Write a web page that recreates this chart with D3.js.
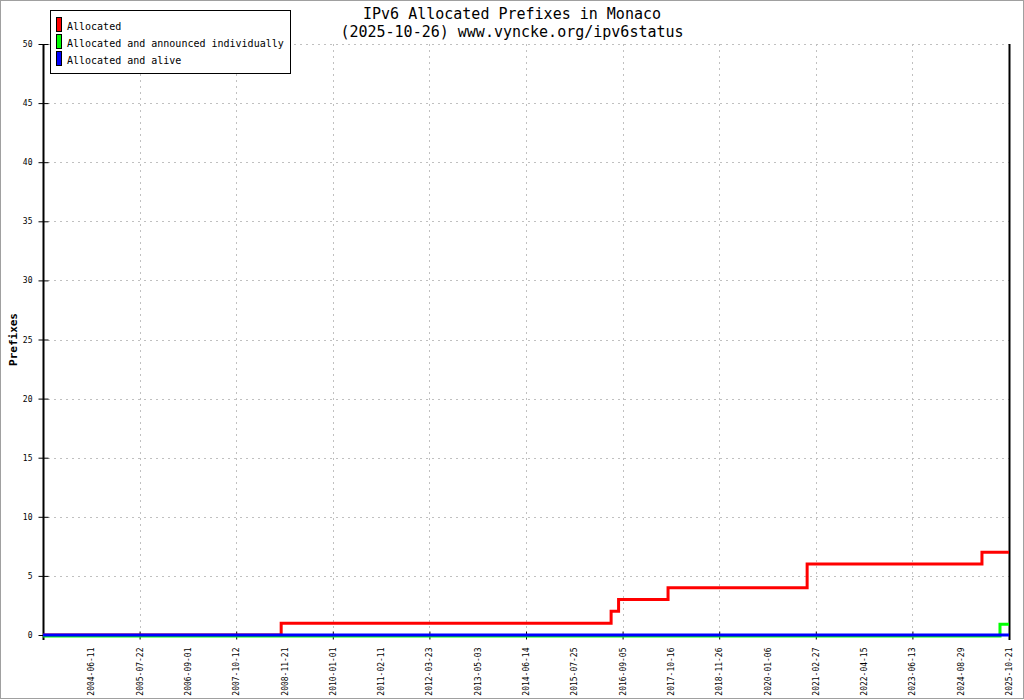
<!DOCTYPE html>
<html>
<head>
<meta charset="utf-8">
<script src="https://cdn.jsdelivr.net/npm/d3@7"></script>
<style>
  body { margin: 0; background: #fff; }
  svg { display: block; }
  text { font-family: "DejaVu Sans Mono", "Liberation Mono", monospace; }
</style>
</head>
<body>
<svg id="chart"></svg>
<script>
// donnees
const axisStart = "2003-05-02";
const xLabels = ["2004-06-11", "2005-07-22", "2006-09-01", "2007-10-12", "2008-11-21",
  "2010-01-01", "2011-02-11", "2012-03-23", "2013-05-03", "2014-06-14", "2015-07-25",
  "2016-09-05", "2017-10-16", "2018-11-26", "2020-01-06", "2021-02-27", "2022-04-15",
  "2023-06-13", "2024-08-29", "2025-10-21"];
const yTicks = [0, 5, 10, 15, 20, 25, 30, 35, 40, 45, 50];

const allocatedDates = ["2003-05-02", "2008-10-24", "2016-05-31", "2016-08-02", "2017-09-22", "2020-12-14", "2025-03-01", "2025-10-21"];
const allocatedValues = [0, 1, 2, 3, 4, 6, 7, 7];
const announcedDates = ["2003-05-02", "2025-08-04", "2025-10-21"];
const announcedValues = [0, 1, 1];
const aliveDates = ["2003-05-02", "2025-10-21"];
const aliveValues = [0, 0];

const seriesNames = ["Allocated", "Allocated and announced individually", "Allocated and alive"];
const seriesColors = ["#ff0000", "#00ff00", "#0000ff"];

const width = 1024, height = 700;
const mLeft = 43, mRight = 1009, mTop = 44, mBottom = 635;

const svg = d3.select("#chart").attr("width", width).attr("height", height);
const parse = d3.timeParse("%Y-%m-%d");

// bordure grise autour de l'image
svg.append("rect")
  .attr("x", 0.5).attr("y", 0.5)
  .attr("width", width - 1).attr("height", height - 2)
  .attr("fill", "white")
  .attr("stroke", "#a0a0a0");

// echelle x : les etiquettes sont espacees regulierement (polylineaire)
const xDomain = [axisStart].concat(xLabels).map(parse);
const step = (mRight - mLeft) / xLabels.length;
const x = d3.scaleTime()
  .domain(xDomain)
  .range(xDomain.map((d, i) => mLeft + i * step));

const y = d3.scaleLinear().domain([0, 50]).range([mBottom, mTop]);

// grille
const gridColor = "#c0c0c0";
svg.append("g")
  .selectAll("line")
  .data(yTicks)
  .join("line")
  .attr("x1", mLeft + 5).attr("x2", mRight)
  .attr("y1", d => Math.round(y(d)) + 0.5).attr("y2", d => Math.round(y(d)) + 0.5)
  .attr("stroke", gridColor)
  .attr("stroke-dasharray", "2,4")
  .attr("shape-rendering", "crispEdges");

const tickDates = xLabels.filter((d, i) => i % 2 === 1).map(parse);
svg.append("g")
  .selectAll("line")
  .data(tickDates)
  .join("line")
  .attr("x1", d => Math.round(x(d)) + 0.5).attr("x2", d => Math.round(x(d)) + 0.5)
  .attr("y1", mTop).attr("y2", mBottom - 4)
  .attr("stroke", gridColor)
  .attr("stroke-dasharray", "2,4")
  .attr("shape-rendering", "crispEdges");

// axe x
const xAxis = svg.append("g")
  .attr("transform", `translate(0,${mBottom + 0.5})`)
  .call(d3.axisBottom(x)
    .tickValues(xLabels.map(parse))
    .tickFormat(d3.timeFormat("%Y-%m-%d"))
    .tickSize(0));
xAxis.select(".domain").remove();
xAxis.selectAll(".tick line")
  .attr("y1", -4).attr("y2", 4)
  .attr("stroke", "black")
  .style("display", (d, i) => i % 2 === 1 ? null : "none");
xAxis.selectAll(".tick text")
  .attr("transform", "translate(0,12) rotate(-90)")
  .attr("x", 0).attr("y", 0)
  .attr("dy", "0.32em")
  .attr("text-anchor", "end")
  .attr("font-size", 8)
  .attr("font-family", "DejaVu Sans Mono")
  .attr("fill", "black");

// axe y
const yAxis = svg.append("g")
  .attr("transform", `translate(${mLeft + 0.5},0)`)
  .call(d3.axisLeft(y).tickValues(yTicks).tickSize(0));
yAxis.select(".domain").remove();
yAxis.selectAll(".tick line")
  .attr("x1", -5).attr("x2", 5)
  .attr("stroke", "black");
yAxis.selectAll(".tick text")
  .attr("x", -11)
  .attr("font-size", 8)
  .attr("font-family", "DejaVu Sans Mono")
  .attr("fill", "black");

// cadre : axe gauche, bas, bordure droite
svg.append("line")
  .attr("x1", mLeft + 0.5).attr("x2", mLeft + 0.5)
  .attr("y1", mTop).attr("y2", mBottom + 5)
  .attr("stroke", "black").attr("stroke-width", 2);
svg.append("line")
  .attr("x1", mLeft).attr("x2", mRight + 1)
  .attr("y1", mBottom + 0.5).attr("y2", mBottom + 0.5)
  .attr("stroke", "black");
svg.append("line")
  .attr("x1", mRight + 0.5).attr("x2", mRight + 0.5)
  .attr("y1", mTop).attr("y2", mBottom + 5)
  .attr("stroke", "black").attr("stroke-width", 2);

// courbes
const line = d3.line()
  .x(d => x(d[0]))
  .y(d => y(d[1]))
  .curve(d3.curveStepAfter);

const series = [
  { dates: allocatedDates, values: allocatedValues, color: seriesColors[0], shift: 0 },
  { dates: announcedDates, values: announcedValues, color: seriesColors[1], shift: 1 },
  { dates: aliveDates, values: aliveValues, color: seriesColors[2], shift: 0 }
];

series.forEach(s => {
  const pts = s.dates.map((d, i) => [parse(d), s.values[i]]);
  svg.append("path")
    .datum(pts)
    .attr("d", line)
    .attr("transform", `translate(0,${s.shift})`)
    .attr("fill", "none")
    .attr("stroke", s.color)
    .attr("stroke-width", 3);
});

// titre
svg.append("text")
  .text("IPv6 Allocated Prefixes in Monaco")
  .attr("x", width / 2).attr("y", 19)
  .attr("text-anchor", "middle")
  .attr("font-size", 15);
svg.append("text")
  .text("(2025-10-26) www.vyncke.org/ipv6status")
  .attr("x", width / 2).attr("y", 37)
  .attr("text-anchor", "middle")
  .attr("font-size", 15);

// titre axe y
svg.append("text")
  .text("Prefixes")
  .attr("transform", `translate(17,${(mTop + mBottom) / 2}) rotate(-90)`)
  .attr("text-anchor", "middle")
  .attr("font-size", 11)
  .attr("font-weight", "bold");

// legende
const legend = svg.append("g");
legend.append("rect")
  .attr("x", 50.5).attr("y", 10.5)
  .attr("width", 240).attr("height", 63)
  .attr("fill", "white")
  .attr("stroke", "black");

const items = legend.selectAll("g.item")
  .data(seriesNames)
  .join("g")
  .attr("class", "item")
  .attr("transform", (d, i) => `translate(0,${i * 17})`);
items.append("rect")
  .attr("x", 56.5).attr("y", 17.5)
  .attr("width", 5).attr("height", 14)
  .attr("fill", (d, i) => seriesColors[i])
  .attr("stroke", "black");
items.append("text")
  .text(d => d)
  .attr("x", 67).attr("y", 30)
  .attr("font-size", 10);
</script>
</body>
</html>
